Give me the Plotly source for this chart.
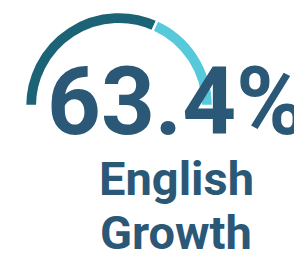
import plotly.graph_objects as go

labels = ["Growth", "Remaining", "Hidden"]
values = [63.4, 36.6, 100.0]
value_text = "63.4%"
title_lines = ["English", "Growth"]

W, H = 302, 262
cx, cy, R = 111, 98, 94  # pixels from top-left
fig = go.Figure()
fig.add_trace(go.Pie(
    labels=labels, values=values, hole=0.87, sort=False,
    direction="clockwise", rotation=270,
    marker=dict(colors=["#1b6375", "#56c9db", "rgba(0,0,0,0)"],
                line=dict(color=["white", "white", "rgba(0,0,0,0)"], width=[2.5, 2.5, 0])),
    textinfo="none", hoverinfo="skip", showlegend=False,
    domain=dict(x=[(cx - R) / W, (cx + R) / W], y=[(H - cy - R) / H, min(1, (H - cy + R) / H)]),
))
fig.add_annotation(x=38 / W, y=1 - 94 / H, xref="paper", yref="paper",
                   text=value_text, showarrow=False, xanchor="left", yanchor="middle",
                   borderpad=0,
                   font=dict(family="Roboto", size=94, color="#2b5876", weight="bold"))
fig.add_annotation(x=168 / W, y=1 - 170 / H, xref="paper", yref="paper",
                   text=title_lines[0], showarrow=False, xanchor="center", yanchor="middle",
                   borderpad=0,
                   font=dict(family="Roboto", size=47, color="#2b5876", weight="bold"))
fig.add_annotation(x=168 / W, y=1 - 224 / H, xref="paper", yref="paper",
                   text=title_lines[1], showarrow=False, xanchor="center", yanchor="middle",
                   borderpad=0,
                   font=dict(family="Roboto", size=47, color="#2b5876", weight="bold"))
fig.update_layout(width=W, height=H, margin=dict(l=0, r=0, t=0, b=0),
                  paper_bgcolor="white", plot_bgcolor="white")
fig.write_html("out.html")
